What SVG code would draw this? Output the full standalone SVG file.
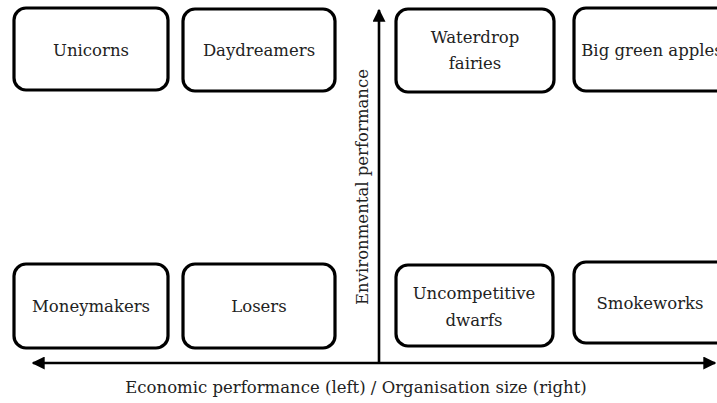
<svg xmlns="http://www.w3.org/2000/svg" width="717" height="403" viewBox="0 0 717 403">
<style>
.box{fill:#fff;stroke:#000;stroke-width:3.2}
text{font-family:"DejaVu Serif","Liberation Serif",serif;font-size:16.5px;fill:#222;text-anchor:middle}
.ax{stroke:#000;stroke-width:2.6;fill:none}
</style>
<defs>
<marker id="ah" viewBox="0 0 10 10" refX="9" refY="5" markerWidth="5" markerHeight="5" orient="auto-start-reverse" markerUnits="strokeWidth">
<path d="M0,0 L10,5 L0,10 z" fill="#000"/>
</marker>
</defs>
<rect width="717" height="403" fill="#fff"/>
<g id="connectors">
<line class="ax" x1="379" y1="362" x2="379" y2="10" marker-end="url(#ah)"/>
<line class="ax" x1="33" y1="363" x2="715" y2="363" marker-start="url(#ah)" marker-end="url(#ah)"/>
</g>
<g id="unicorns"><rect class="box" x="14" y="8" width="154" height="82" rx="12"/><text x="91" y="56">Unicorns</text></g>
<g id="daydreamers"><rect class="box" x="183" y="9" width="152" height="82" rx="12"/><text x="259" y="56">Daydreamers</text></g>
<g id="waterdrop"><rect class="box" x="396" y="9" width="158" height="83" rx="12"/><text x="475" y="43">Waterdrop</text><text x="475" y="69">fairies</text></g>
<g id="biggreen"><rect class="box" x="574" y="8" width="158" height="83" rx="12"/><text x="652" y="56">Big green apples</text></g>
<g id="moneymakers"><rect class="box" x="14" y="264" width="154" height="84" rx="12"/><text x="91" y="312">Moneymakers</text></g>
<g id="losers"><rect class="box" x="183" y="264" width="152" height="84" rx="12"/><text x="259" y="312">Losers</text></g>
<g id="uncompetitive"><rect class="box" x="396" y="265" width="157" height="81" rx="12"/><text x="474" y="299">Uncompetitive</text><text x="474" y="326">dwarfs</text></g>
<g id="smokeworks"><rect class="box" x="574" y="262" width="158" height="81" rx="12"/><text x="650" y="309">Smokeworks</text></g>
<g id="labels">
<text x="356" y="393">Economic performance (left) / Organisation size (right)</text>
<text transform="translate(368,187) rotate(-90)">Environmental performance</text>
</g>
</svg>
